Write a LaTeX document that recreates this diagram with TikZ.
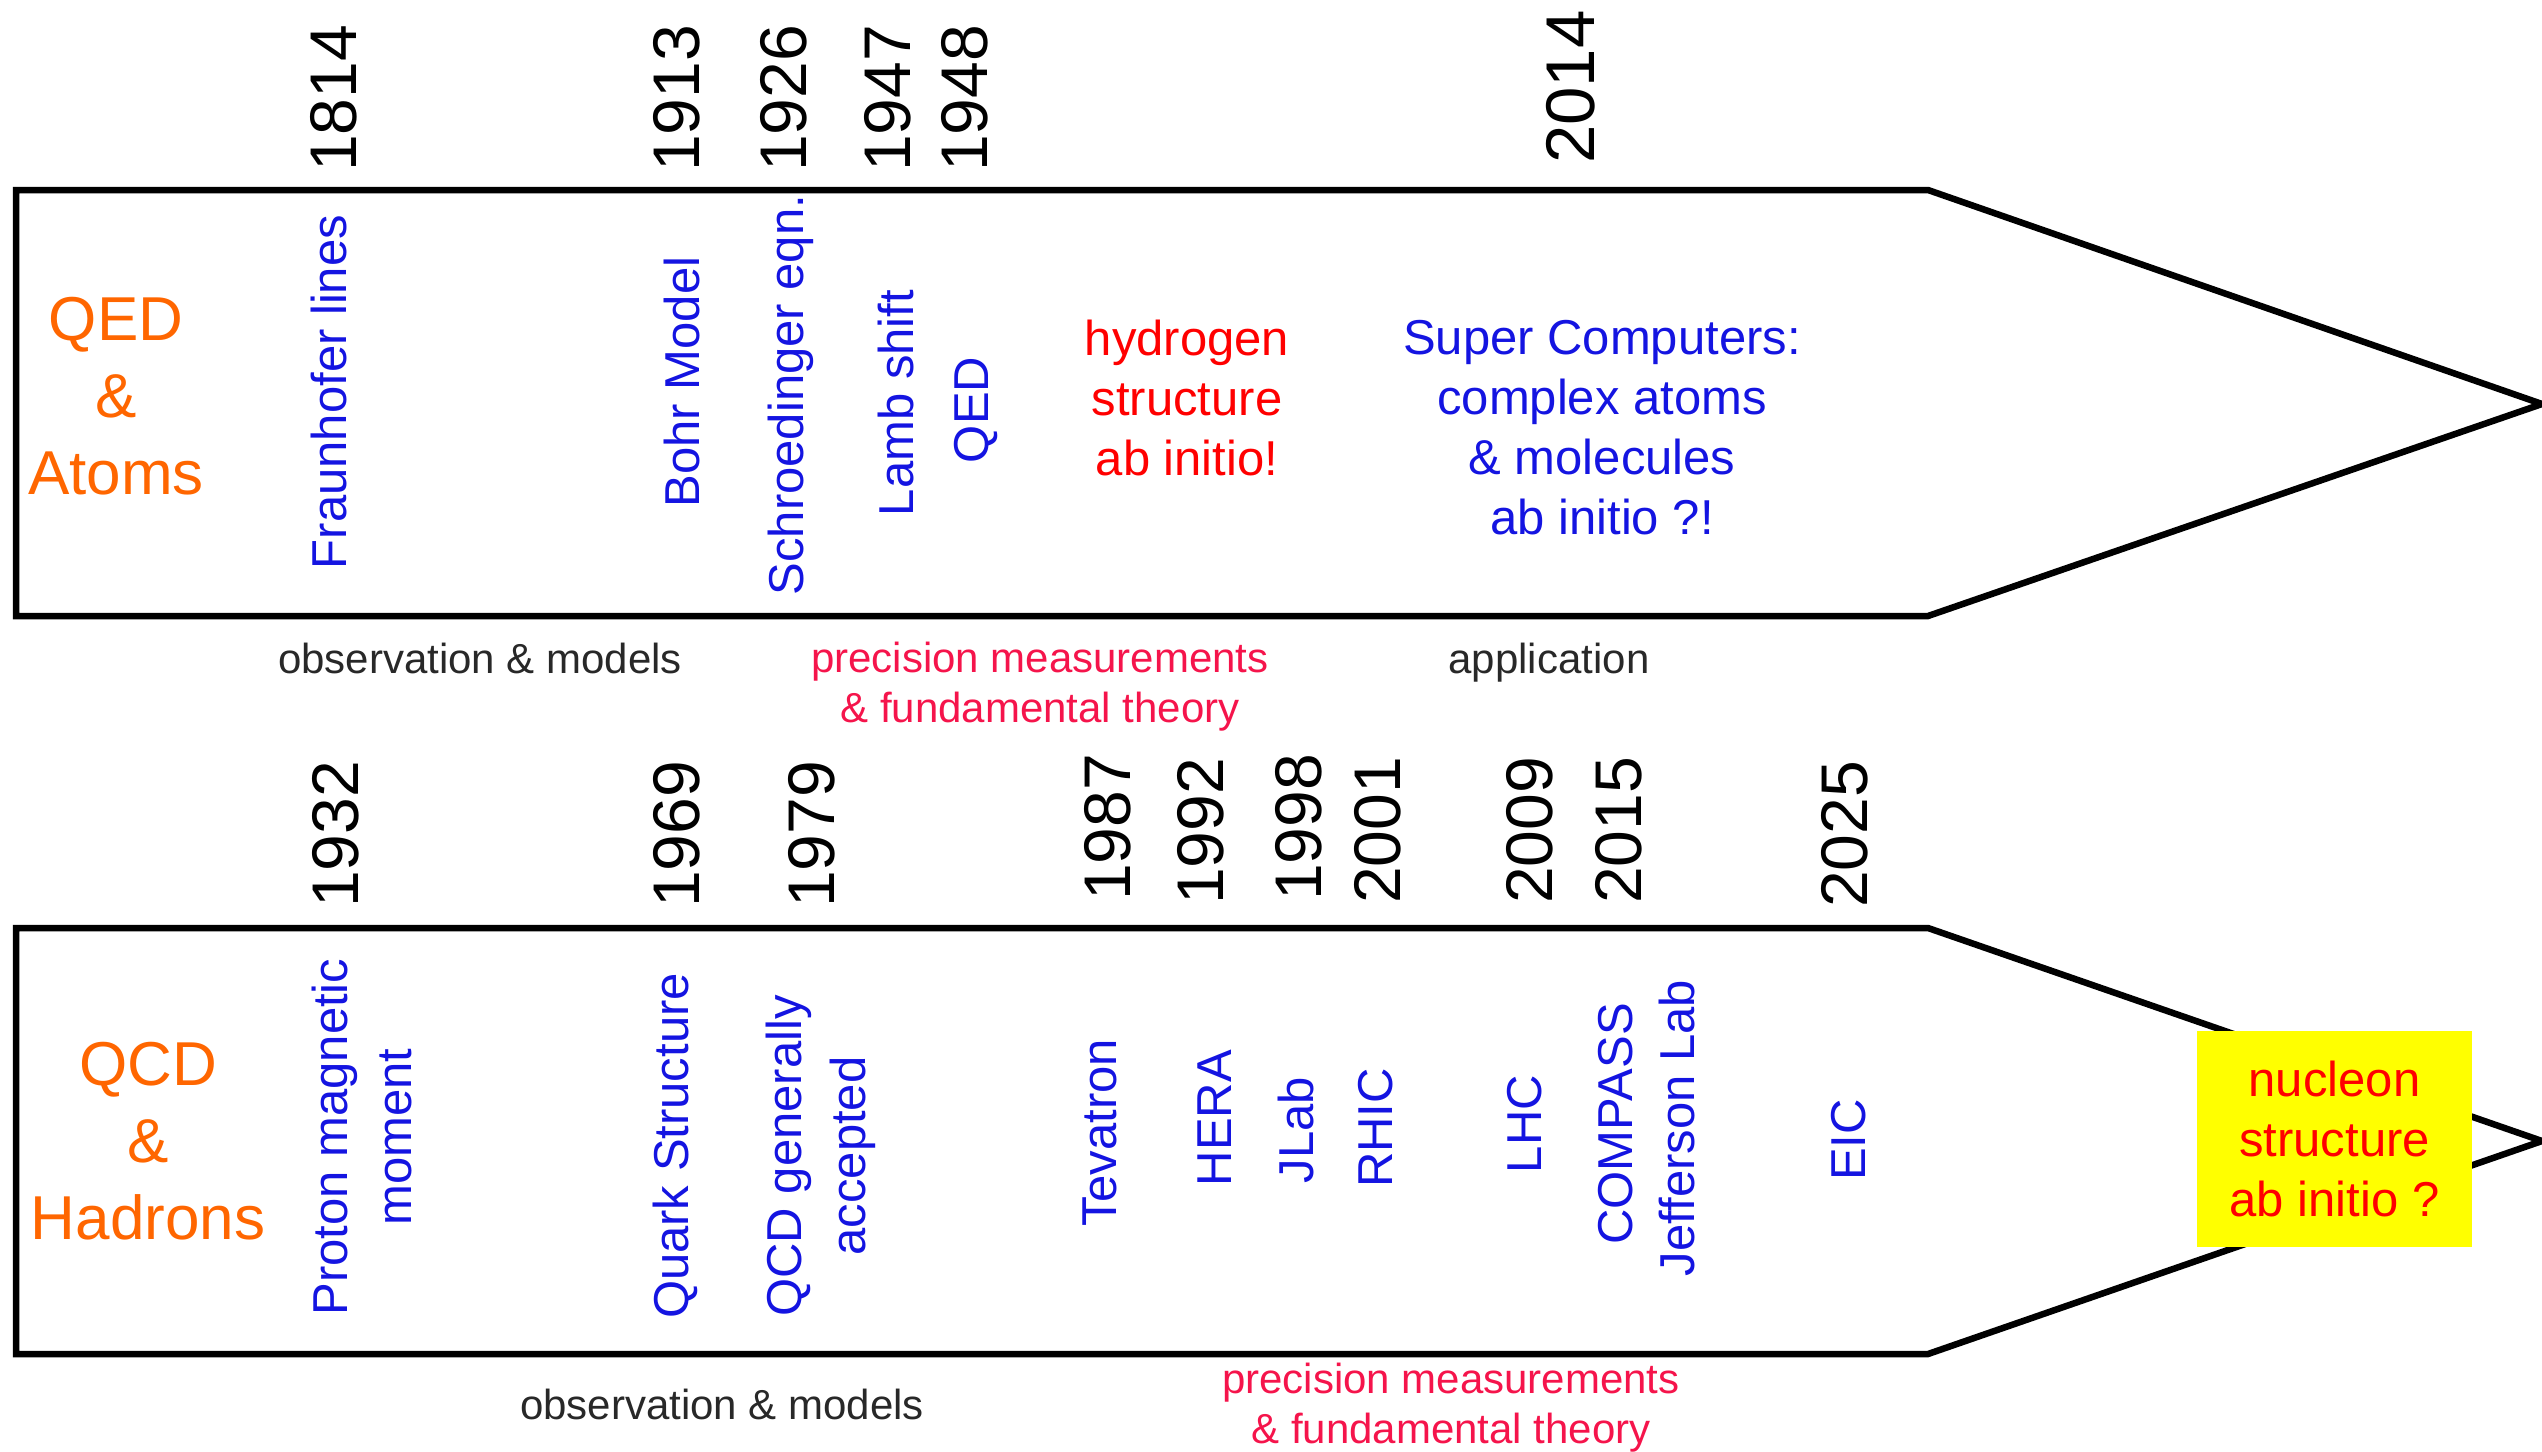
\documentclass[tikz,border=0pt]{standalone}
\usepackage{fontspec}
\setmainfont{Liberation Sans}
\definecolor{labelblue}{RGB}{20,20,225}
\definecolor{resultred}{RGB}{255,0,0}
\definecolor{phasered}{RGB}{245,20,75}
\definecolor{fieldorange}{RGB}{255,102,0}
\definecolor{captiongray}{RGB}{40,40,40}
\definecolor{boxyellow}{RGB}{255,255,0}
\begin{document}
\begin{tikzpicture}[x=1pt,y=-1pt,
  timeline/.style={draw=black,line width=6.5pt,line join=miter},
  year/.style={rotate=90,anchor=west,inner sep=0pt,text=black,font=\fontsize{66}{79}\selectfont},
  vlabel/.style={rotate=90,anchor=base,inner sep=0pt,text=labelblue,font=\fontsize{49}{60}\selectfont},
  vlabeltwo/.style={rotate=90,anchor=center,inner sep=0pt,align=center,text=labelblue,font=\fontsize{49}{64}\selectfont},
  field/.style={anchor=center,inner sep=0pt,align=center,text=fieldorange,font=\fontsize{62}{77}\selectfont},
  note/.style={anchor=center,inner sep=0pt,align=center,font=\fontsize{49}{60}\selectfont},
  phase/.style={anchor=center,inner sep=0pt,align=center,font=\fontsize{42}{50}\selectfont},
  caption/.style={anchor=base,inner sep=0pt,text=captiongray,font=\fontsize{42}{50}\selectfont}]
\useasboundingbox (0,0) rectangle (2542,1451);

% timeline arrows
\draw[timeline] (16,190) -- (1928,190) -- (2542,404) -- (1928,616) -- (16,616) -- cycle;
\draw[timeline] (16,928) -- (1928,928) -- (2542,1141) -- (1928,1354) -- (16,1354) -- cycle;

% ---------- QED & Atoms ----------
\node[field] (qed) at (116,396) {QED\\\&\\Atoms};

\node[year] (y1814) at (334,172) {1814};
\node[year] (y1913) at (677,172) {1913};
\node[year] (y1926) at (784,172) {1926};
\node[year] (y1947) at (888,172) {1947};
\node[year] (y1948) at (965,172) {1948};
\node[year,font=\fontsize{69}{82}\selectfont] (y2014) at (1571,164) {2014};

\node[vlabel] (fraun) at (346,392) {Fraunhofer lines};
\node[vlabel] (bohr) at (699,382) {Bohr Model};
\node[vlabel] (schr) at (803,395) {Schroedinger eqn.};
\node[vlabel] (lamb) at (913,403) {Lamb shift};
\node[vlabel] (qedl) at (988,410) {QED};

\node[note,text=resultred] (hydro) at (1187,398) {hydrogen\\structure\\ab initio!};
\node[note,text=labelblue] (super) at (1602,428) {Super Computers:\\complex atoms\\\& molecules\\ab initio ?!};

\node[caption] (obsA) at (480,673) {observation \& models};
\node[phase,text=phasered] (precA) at (1040,687) {precision measurements\\\& fundamental theory};
\node[caption] (appl) at (1549,673) {application};

% ---------- QCD & Hadrons ----------
\node[field] (qcd) at (148,1141) {QCD\\\&\\Hadrons};

\node[year] (y1932) at (336,908) {1932};
\node[year] (y1969) at (677,908) {1969};
\node[year] (y1979) at (812,908) {1979};
\node[year] (y1987) at (1108,901) {1987};
\node[year] (y1992) at (1201,905) {1992};
\node[year] (y1998) at (1299,901) {1998};
\node[year] (y2001) at (1378,904) {2001};
\node[year] (y2009) at (1530,904) {2009};
\node[year] (y2015) at (1619,904) {2015};
\node[year] (y2025) at (1845,908) {2025};

\node[vlabeltwo] (proton) at (362,1137) {Proton magnetic\\moment};
\node[vlabel] (quark) at (688,1146) {Quark Structure};
\node[vlabeltwo] (qcdacc) at (821,1156) {QCD generally\\accepted};
\node[vlabel] (tev) at (1116,1133) {Tevatron};
\node[vlabel] (hera) at (1231,1118) {HERA};
\node[vlabel] (jlab) at (1313,1130) {JLab};
\node[vlabel] (rhic) at (1392,1128) {RHIC};
\node[vlabel] (lhc) at (1541,1124) {LHC};
\node[vlabel] (compass) at (1632,1124) {COMPASS};
\node[vlabel] (jeff) at (1694,1128) {Jefferson Lab};
\node[vlabel] (eic) at (1865,1140) {EIC};

\node[note,fill=boxyellow,text=resultred,minimum width=275pt,minimum height=216pt]
  (nucleon) at (2334.5,1139) {nucleon\\structure\\ab initio ?};

\node[caption] (obsB) at (722,1419) {observation \& models};
\node[phase,text=phasered] (precB) at (1451,1408) {precision measurements\\\& fundamental theory};
\end{tikzpicture}
\end{document}
